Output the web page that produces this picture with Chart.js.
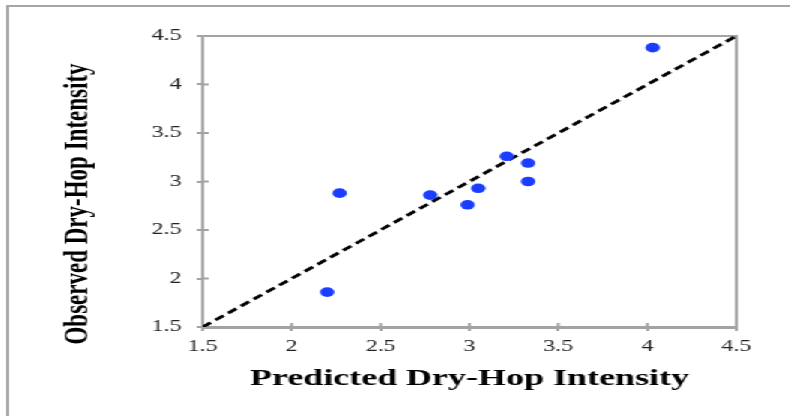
<!DOCTYPE html>
<html>
<head>
<meta charset="utf-8">
<script src="https://cdn.jsdelivr.net/npm/chart.js@4.4.1/dist/chart.umd.min.js"></script>
<style>
  html, body { margin: 0; padding: 0; background: #fff; overflow: hidden; }
  /* the chart is laid out narrow and then stretched sideways */
  #stage { position: absolute; left: 0; top: 0; width: 527px; height: 416px; transform: scaleX(1.5); transform-origin: 0 0; }
  #frame { position: absolute; left: 4px; top: 5px; right: -20px; bottom: -20px; border-left: 2px solid #a6a6a6; border-top: 2px solid #a6a6a6; }
  #chart { position: absolute; left: 0; top: 0; }
</style>
</head>
<body>
<div id="stage">
  <div id="frame"></div>
  <canvas id="chart" width="527" height="416"></canvas>
</div>
<script>
// predicted vs observed dry-hop intensity
const predicted = [2.20, 2.27, 2.78, 2.99, 3.05, 3.21, 3.33, 3.33, 4.03];
const observed  = [1.86, 2.88, 2.86, 2.76, 2.93, 3.26, 3.19, 3.00, 4.38];

// 1:1 reference line ends
const unityLine = [1.5, 4.5];

const xTickValues = [1.5, 2, 2.5, 3, 3.5, 4, 4.5];
const yTickValues = [1.5, 2, 2.5, 3, 3.5, 4, 4.5];

const xTitle = 'Predicted Dry-Hop Intensity';
const yTitle = 'Observed Dry-Hop Intensity';

const axisGray = '#a3a3a3';
const serif = "'Liberation Serif', 'Times New Roman', serif";

// top/right edges of the plot box plus the inner half of each tick mark
const plotFrame = {
  id: 'plotFrame',
  beforeDatasetsDraw(chart) {
    const { ctx, chartArea: a, scales } = chart;
    ctx.save();
    ctx.strokeStyle = axisGray;
    ctx.lineWidth = 2;
    ctx.beginPath();
    ctx.moveTo(a.left, a.top);
    ctx.lineTo(a.right, a.top);
    ctx.lineTo(a.right, a.bottom);
    ctx.stroke();

    ctx.beginPath();
    scales.x.ticks.forEach((t, i) => {
      const px = scales.x.getPixelForTick(i);
      ctx.moveTo(px, a.bottom);
      ctx.lineTo(px, a.bottom - 4);
    });
    scales.y.ticks.forEach((t, i) => {
      const py = scales.y.getPixelForTick(i);
      ctx.moveTo(a.left, py);
      ctx.lineTo(a.left + 4, py);
    });
    ctx.stroke();
    ctx.restore();
  }
};

// vertical title, sits a little below the middle of the axis
const sideTitle = {
  id: 'sideTitle',
  afterDraw(chart) {
    const { ctx } = chart;
    ctx.save();
    ctx.translate(52, 204);
    ctx.rotate(-Math.PI / 2);
    ctx.font = 'bold 23px ' + serif;
    ctx.fillStyle = '#000';
    ctx.textAlign = 'center';
    ctx.textBaseline = 'middle';
    ctx.fillText(yTitle, 0, 0);
    ctx.restore();
  }
};

const points = predicted.map((x, i) => ({ x: x, y: observed[i] }));
const diagonal = unityLine.map(v => ({ x: v, y: v }));

new Chart(document.getElementById('chart'), {
  type: 'scatter',
  data: {
    datasets: [
      {
        label: 'Samples',
        data: points,
        pointStyle: 'circle',
        pointRadius: 4.8,
        pointHoverRadius: 4.8,
        backgroundColor: '#1a3dff',
        borderColor: '#1a3dff',
        borderWidth: 0,
        order: 0
      },
      {
        type: 'line',
        label: '1:1',
        data: diagonal,
        borderColor: '#000',
        borderWidth: 2.8,
        borderDash: [7, 4],
        pointRadius: 0,
        fill: false,
        order: 1
      }
    ]
  },
  options: {
    responsive: false,
    animation: false,
    layout: { padding: { top: 36, right: 36, left: 0, bottom: 0 } },
    plugins: {
      legend: { display: false },
      tooltip: { enabled: false }
    },
    scales: {
      x: {
        type: 'linear',
        min: 1.5,
        max: 4.5,
        afterBuildTicks: s => { s.ticks = xTickValues.map(v => ({ value: v })); },
        afterFit: s => { s.height = 89; },
        grid: { drawOnChartArea: false, drawTicks: true, tickLength: 4, color: axisGray, lineWidth: 2 },
        border: { color: axisGray, width: 3 },
        ticks: {
          callback: v => String(v),
          color: '#222',
          padding: 6,
          maxRotation: 0,
          font: { family: serif, size: 16 }
        },
        title: {
          display: true,
          text: xTitle,
          color: '#000',
          padding: { top: 0, bottom: 23 },
          font: { family: serif, size: 24, weight: 'bold' }
        }
      },
      y: {
        type: 'linear',
        min: 1.5,
        max: 4.5,
        afterBuildTicks: s => { s.ticks = yTickValues.map(v => ({ value: v })); },
        afterFit: s => { s.width = 135; },
        grid: { drawOnChartArea: false, drawTicks: true, tickLength: 4, color: axisGray, lineWidth: 2 },
        border: { color: axisGray, width: 2 },
        ticks: {
          callback: v => String(v),
          color: '#222',
          padding: 10,
          font: { family: serif, size: 16 }
        }
      }
    }
  },
  plugins: [plotFrame, sideTitle]
});
</script>
</body>
</html>
